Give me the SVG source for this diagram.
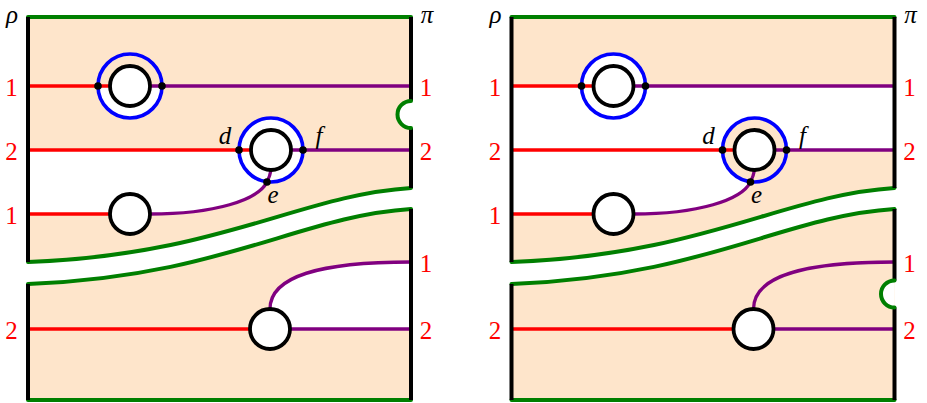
<svg xmlns="http://www.w3.org/2000/svg" xmlns:xlink="http://www.w3.org/1999/xlink" width="927" height="403" viewBox="0 0 927 403">
<style>
.sh{fill:#FEE5CB;stroke:none}
.wh{fill:#FFFFFF;stroke:none}
.red{stroke:#FF0000;stroke-width:3.3;fill:none}
.pur{stroke:#800080;stroke-width:3.3;fill:none}
.wall{stroke:#000000;stroke-width:4;fill:none}
.grn{stroke:#007F00;stroke-width:4;fill:none;stroke-linecap:round}
.blue{stroke:#0000FF;stroke-width:3.6;fill:none}
.ring{stroke:#000000;stroke-width:3.8;fill:#FFFFFF}
.dot{fill:#000000}
</style>
<defs>
<g id="common-lines">
<path class="red" d="M28,86 H110"/>
<path class="pur" d="M150,86 H411"/>
<path class="red" d="M28,150 H251"/>
<path class="pur" d="M291,150 H411"/>
<path class="red" d="M28,214 H110"/>
<path class="pur" d="M150,214 C215,214 258,200 267,182 Q270,176 271,170"/>
<path class="red" d="M28,329 H250"/>
<path class="pur" d="M290,329 H411"/>
<path class="pur" d="M270,309 C270,276 320,262 411,262"/>
</g>
<g id="common-frame">
<path class="grn" d="M28,17 H411"/>
<path class="grn" d="M28,400 H411"/>
<path class="grn" d="M28,262 C220,255 300,195 411,188"/>
<path class="grn" d="M28,284 C220,277 300,216 411,209"/>
<path class="wall" d="M28,17 V262 M28,284 V400"/>
</g>
<g id="common-circles">
<circle class="blue" cx="130" cy="86" r="32"/>
<circle class="blue" cx="271" cy="150" r="32"/>
<circle class="ring" cx="130" cy="86" r="20"/>
<circle class="ring" cx="271" cy="150" r="20"/>
<circle class="ring" cx="130" cy="214" r="20"/>
<circle class="ring" cx="270" cy="329" r="20"/>
<circle class="dot" cx="98" cy="86" r="3.8"/>
<circle class="dot" cx="162" cy="86" r="3.8"/>
<circle class="dot" cx="239" cy="150" r="3.8"/>
<circle class="dot" cx="303" cy="150" r="3.8"/>
<circle class="dot" cx="267" cy="182" r="3.8"/>
</g>
</defs>

<g id="panel-left">
<g id="left-shading">
<path class="sh" d="M28,17 H411 V188 C300,195 220,255 28,262 Z"/>
<path class="wh" d="M28,150 H271 V170 Q270,176 267,182 C258,200 215,214 150,214 H28 Z"/>
<circle class="wh" cx="271" cy="150" r="32"/>
<path class="wh" d="M98,86 A32,32 0 0 0 162,86 Z"/>
<path class="wh" d="M411,101 A13.5,13.5 0 0 0 411,128 Z"/>
<path class="sh" d="M28,284 C220,277 300,216 411,209 V400 H28 Z"/>
<path class="wh" d="M270,329 V309 C270,276 320,262 411,262 V329 Z"/>
</g>
<use xlink:href="#common-lines"/>
<use xlink:href="#common-frame"/>
<path class="wall" d="M411,17 V101 M411,128 V188 M411,209 V400"/>
<path class="grn" d="M411,101 A13.5,13.5 0 0 0 411,128"/>
<use xlink:href="#common-circles"/>
<g id="left-labels">
<text x="12" y="23" font-family="Times New Roman" font-size="25" font-style="italic" text-anchor="middle">ρ</text>
<text x="427" y="23" font-family="Times New Roman" font-size="25" font-style="italic" text-anchor="middle">π</text>
<text x="225" y="144" font-family="Times New Roman" font-size="25" font-style="italic" text-anchor="middle">d</text>
<text x="319" y="144" font-family="Times New Roman" font-size="25" font-style="italic" text-anchor="middle">f</text>
<text x="273" y="203" font-family="Times New Roman" font-size="25" font-style="italic" text-anchor="middle">e</text>
<text x="11.5" y="96" font-family="Times New Roman" font-size="25" fill="#FF0000" text-anchor="middle">1</text>
<text x="11.5" y="160" font-family="Times New Roman" font-size="25" fill="#FF0000" text-anchor="middle">2</text>
<text x="11.5" y="224" font-family="Times New Roman" font-size="25" fill="#FF0000" text-anchor="middle">1</text>
<text x="11.5" y="339" font-family="Times New Roman" font-size="25" fill="#FF0000" text-anchor="middle">2</text>
<text x="426" y="96" font-family="Times New Roman" font-size="25" fill="#FF0000" text-anchor="middle">1</text>
<text x="426" y="160" font-family="Times New Roman" font-size="25" fill="#FF0000" text-anchor="middle">2</text>
<text x="426" y="272" font-family="Times New Roman" font-size="25" fill="#FF0000" text-anchor="middle">1</text>
<text x="426" y="339" font-family="Times New Roman" font-size="25" fill="#FF0000" text-anchor="middle">2</text>
</g>
</g>

<g id="panel-right" transform="translate(483.5,0)">
<g id="right-shading">
<rect class="sh" x="28" y="17" width="383" height="69"/>
<path class="sh" d="M271,150 H411 V188 C300,195 220,255 28,262 V214 H150 C215,214 258,200 267,182 Q270,176 271,170 Z"/>
<circle class="sh" cx="271" cy="150" r="32"/>
<circle class="wh" cx="130" cy="86" r="32"/>
<path class="sh" d="M28,284 C220,277 300,216 411,209 V400 H28 Z"/>
<path class="wh" d="M411,280.5 A13.5,13.5 0 0 0 411,307.5 Z"/>
</g>
<use xlink:href="#common-lines"/>
<use xlink:href="#common-frame"/>
<path class="wall" d="M411,17 V188 M411,209 V280.5 M411,307.5 V400"/>
<path class="grn" d="M411,280.5 A13.5,13.5 0 0 0 411,307.5"/>
<use xlink:href="#common-circles"/>
<g id="right-labels">
<text x="12" y="23" font-family="Times New Roman" font-size="25" font-style="italic" text-anchor="middle">ρ</text>
<text x="427" y="23" font-family="Times New Roman" font-size="25" font-style="italic" text-anchor="middle">π</text>
<text x="225" y="144" font-family="Times New Roman" font-size="25" font-style="italic" text-anchor="middle">d</text>
<text x="319" y="144" font-family="Times New Roman" font-size="25" font-style="italic" text-anchor="middle">f</text>
<text x="273" y="203" font-family="Times New Roman" font-size="25" font-style="italic" text-anchor="middle">e</text>
<text x="11.5" y="96" font-family="Times New Roman" font-size="25" fill="#FF0000" text-anchor="middle">1</text>
<text x="11.5" y="160" font-family="Times New Roman" font-size="25" fill="#FF0000" text-anchor="middle">2</text>
<text x="11.5" y="224" font-family="Times New Roman" font-size="25" fill="#FF0000" text-anchor="middle">1</text>
<text x="11.5" y="339" font-family="Times New Roman" font-size="25" fill="#FF0000" text-anchor="middle">2</text>
<text x="426" y="96" font-family="Times New Roman" font-size="25" fill="#FF0000" text-anchor="middle">1</text>
<text x="426" y="160" font-family="Times New Roman" font-size="25" fill="#FF0000" text-anchor="middle">2</text>
<text x="426" y="272" font-family="Times New Roman" font-size="25" fill="#FF0000" text-anchor="middle">1</text>
<text x="426" y="339" font-family="Times New Roman" font-size="25" fill="#FF0000" text-anchor="middle">2</text>
</g>
</g>
</svg>
